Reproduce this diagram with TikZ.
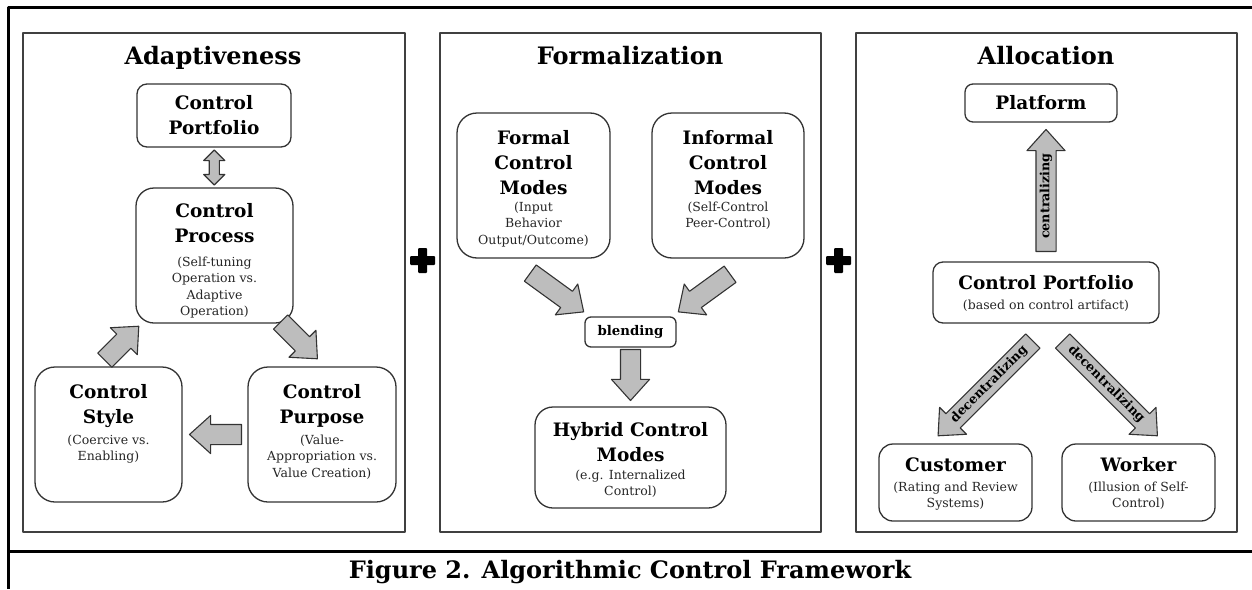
\documentclass[tikz,border=0pt]{standalone}
\usepackage{fontspec}
\setmainfont{DejaVu Serif}
\usetikzlibrary{shapes.arrows,calc}
\newcommand\ttlfont{\fontsize{24}{28}\selectfont\bfseries}
\newcommand\bxfont{\fontsize{18.5}{25}\selectfont\bfseries}
\newcommand\mysubf{\fontsize{12.5}{16.5}\selectfont}
\newcommand\myarf{\fontsize{12.7}{15}\selectfont\bfseries}
\newcommand\blendf{\fontsize{13.3}{16}\selectfont\bfseries}
\definecolor{arrowgray}{HTML}{BDBDBD}
\definecolor{edgec}{HTML}{333333}
\tikzset{
 panel/.style={draw=black!75, line width=1.5pt},
 frameline/.style={draw=black, line width=3pt},
 bx/.style={draw=edgec, line width=1.3pt, fill=white, inner sep=0pt},
 bt/.style={font=\bxfont, align=center, inner sep=0pt, anchor=north},
 st/.style={font=\mysubf, text=black!85, align=center, inner sep=0pt, anchor=north},
 fat/.style={single arrow, draw=edgec, fill=arrowgray, line width=1.1pt,
   inner xsep=0pt, inner ysep=3.75pt, text height=9pt, text depth=2.5pt,
   single arrow head extend=9pt, single arrow tip angle=84, font=\myarf, anchor=tip},
 dbl/.style={double arrow, draw=edgec, fill=arrowgray, line width=1.1pt,
   inner xsep=0pt, inner ysep=4.5pt, text height=0pt, text depth=0pt,
   double arrow head extend=5.5pt, double arrow tip angle=90, minimum height=35pt},
 ttl/.style={font=\ttlfont, inner sep=0pt, anchor=base},
 plussign/.style={fill=black, rounded corners=1pt},
}
\begin{document}
\begin{tikzpicture}[x=1pt,y=-1pt,line join=round]
\useasboundingbox (0,0) rectangle (1252,589);
% outer frame
\draw[frameline] (1252,7) -- (8,7) -- (8,589);
\draw[frameline] (8,551) -- (1252,551);
% panels
\draw[panel] (23,33) rectangle (405,532);
\draw[panel] (440,33) rectangle (821,532);
\draw[panel] (856,33) rectangle (1237,532);
% plus signs
\foreach \cx in {422.5,838.5}{
  \fill[plussign] (\cx-12.5,260.5-4.5) rectangle (\cx+12.5,260.5+4.5);
  \fill[plussign] (\cx-4.5,260.5-12.5) rectangle (\cx+4.5,260.5+12.5);
}
% titles
\node[ttl] (t1) at (213,64) {Adaptiveness};
\node[ttl] (t2) at (630,64) {Formalization};
\node[ttl] (t3) at (1046,64) {Allocation};
\node[font=\ttlfont, inner sep=0pt, anchor=base] (cap) at (630,578) {Figure 2. Algorithmic Control Framework};

% ---------- Panel 1 ----------
\node[bx, minimum width=154pt, minimum height=63pt, rounded corners=10pt] (port1) at (214,115.5) {};
\node[bt] (port1t) at ($(port1.north)+(0,12)$) {Control\\Portfolio};

\node[bx, minimum width=157pt, minimum height=135pt, rounded corners=18pt] (proc) at (214.5,255.5) {};
\node[bt] (proct) at ($(proc.north)+(0,16)$) {Control\\Process};
\node[st] (procs) at ($(proc.north)+(0,69)$) {(Self-tuning\\Operation vs.\\Adaptive\\Operation)};

\node[bx, minimum width=147pt, minimum height=135pt, rounded corners=20pt] (style) at (108.5,434.5) {};
\node[bt] (stylet) at ($(style.north)+(0,18)$) {Control\\Style};
\node[st] (styles) at ($(style.north)+(0,68)$) {(Coercive vs.\\Enabling)};

\node[bx, minimum width=148pt, minimum height=135pt, rounded corners=20pt] (purp) at (322,434.5) {};
\node[bt] (purpt) at ($(purp.north)+(0,18)$) {Control\\Purpose};
\node[st] (purps) at ($(purp.north)+(0,68)$) {(Value-\\Appropriation vs.\\Value Creation)};

\node[dbl, rotate=90] (dbl1) at ($(port1.south)!0.5!(proc.north)$) {};
\node[fat, rotate=45, minimum height=48pt] (a1) at ($(proc.south west)+(4,2)$) {};
\node[fat, rotate=-45, minimum height=52pt] (a2) at ($(purp.north)+(-4,-7)$) {};
\node[fat, rotate=180, minimum height=52pt] (a3) at ($(style.east)+(6,0)$) {};

% ---------- Panel 2 ----------
\node[bx, minimum width=153pt, minimum height=145pt, rounded corners=20pt] (formal) at (533.5,185.5) {};
\node[bt] (formalt) at ($(formal.north)+(0,18)$) {Formal\\Control\\Modes};
\node[st] (formals) at ($(formal.north)+(0,89)$) {(Input\\Behavior\\Output/Outcome)};

\node[bx, minimum width=152pt, minimum height=145pt, rounded corners=20pt] (informal) at (728,185.5) {};
\node[bt] (informalt) at ($(informal.north)+(0,18)$) {Informal\\Control\\Modes};
\node[st] (informals) at ($(informal.north)+(0,89)$) {(Self-Control\\Peer-Control)};

\node[bx, font=\blendf, minimum width=91pt, minimum height=30pt, rounded corners=6pt] (blend) at (630.5,332) {blending};

\node[bx, minimum width=191pt, minimum height=101pt, rounded corners=18pt] (hybrid) at (630.5,457.5) {};
\node[bt] (hybridt) at ($(hybrid.north)+(0,16)$) {Hybrid Control\\Modes};
\node[st] (hybrids) at ($(hybrid.north)+(0,63)$) {(e.g. Internalized\\Control)};

\node[fat, rotate=-36, minimum height=66pt] (a4) at ($(blend.north west)+(0,-4)$) {};
\node[fat, rotate=-144, minimum height=64pt] (a5) at ($(blend.north east)+(1,-4)$) {};
\node[fat, rotate=-90, minimum height=51pt] (a6) at ($(hybrid.north)+(0,-5)$) {};

% ---------- Panel 3 ----------
\node[bx, font=\bxfont, minimum width=152pt, minimum height=38pt, rounded corners=8pt] (plat) at (1041,103) {Platform};

\node[bx, minimum width=226pt, minimum height=61pt, rounded corners=10pt] (port3) at (1046,292.5) {};
\node[bt] (port3t) at ($(port3.north)+(0,14)$) {Control Portfolio};
\node[st] (port3s) at ($(port3.north)+(0,38)$) {(based on control artifact)};

\node[bx, minimum width=153pt, minimum height=77pt, rounded corners=14pt] (cust) at (955.5,482.5) {};
\node[bt] (custt) at ($(cust.north)+(0,14)$) {Customer};
\node[st] (custs) at ($(cust.north)+(0,38)$) {(Rating and Review\\Systems)};

\node[bx, minimum width=153pt, minimum height=77pt, rounded corners=14pt] (work) at (1138.5,482.5) {};
\node[bt] (workt) at ($(work.north)+(0,14)$) {Worker};
\node[st] (works) at ($(work.north)+(0,38)$) {(Illusion of Self-\\Control)};

\node[fat, rotate=90, minimum height=122pt] (a7) at ($(port3.north|-plat.south)+(0,6)$) {centralizing};
\node[fat, rotate=45, shape border rotate=180, minimum height=134pt] (a8) at ($(cust.north)+(-18,-7)$) {decentralizing};
\node[fat, rotate=-45, minimum height=134pt] (a9) at ($(work.north)+(19.5,-7)$) {decentralizing};
\end{tikzpicture}
\end{document}
